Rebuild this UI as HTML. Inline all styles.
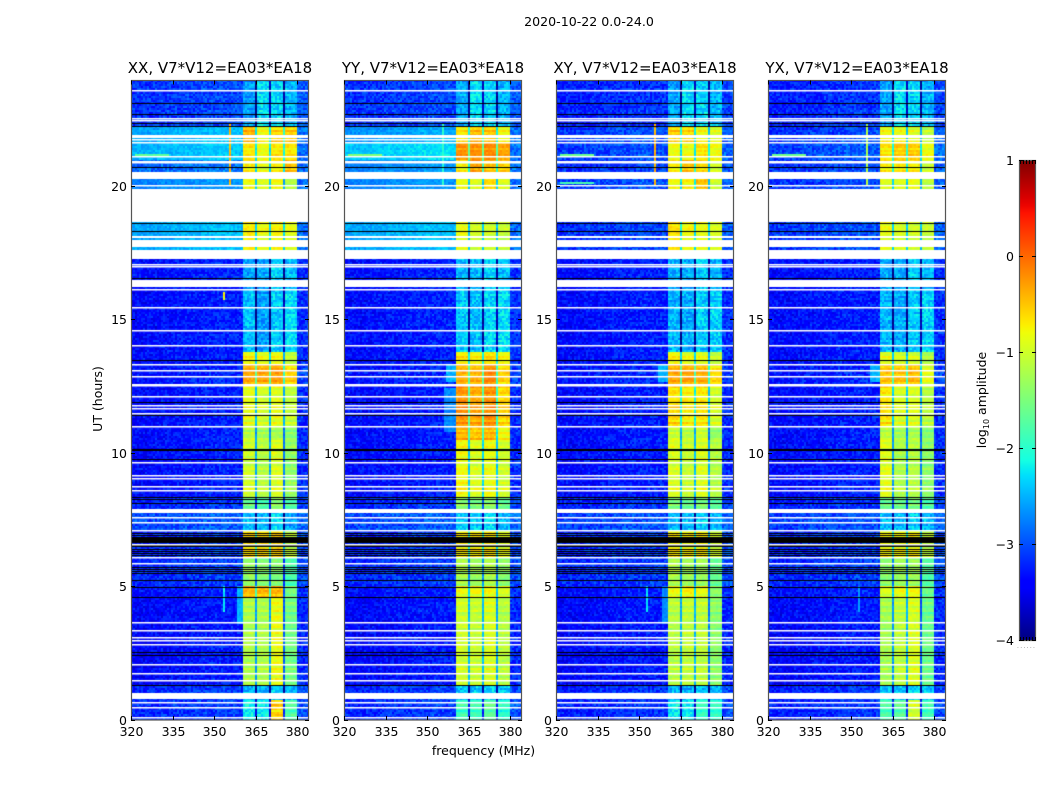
<!DOCTYPE html>
<html lang="en">
<head>
<meta charset="utf-8">
<title>2020-10-22 0.0-24.0</title>
<style>
html,body{margin:0;padding:0;background:#fff;}
#figure{position:relative;width:1050px;height:800px;overflow:hidden;background:#fff;font-family:"DejaVu Sans","Liberation Sans",sans-serif;}
canvas{position:absolute;display:block;}
svg{position:absolute;left:0;top:0;}
text{font-family:"DejaVu Sans","Liberation Sans",sans-serif;fill:#000;}
</style>
</head>
<body>
<div id="figure">
<canvas id="p0" style="left:131px;top:81px" width="177" height="639"></canvas>
<canvas id="p1" style="left:344px;top:81px" width="177" height="639"></canvas>
<canvas id="p2" style="left:556px;top:81px" width="177" height="639"></canvas>
<canvas id="p3" style="left:768px;top:81px" width="177" height="639"></canvas>
<svg id="axes" width="1050" height="800" viewBox="0 0 1050 800" xmlns="http://www.w3.org/2000/svg"></svg>
</div>
<script>
/* ---------- data ---------- */
const figureTitle = "2020-10-22 0.0-24.0";
const polarisations = ["XX", "YY", "XY", "YX"];
const baselineLabel = "V7*V12=EA03*EA18";
const freqTicks = [320, 335, 350, 365, 380];
const utTicks = [0, 5, 10, 15, 20];
const colorTicks = [1, 0, -1, -2, -3, -4];

/* UT edges (hours) of the observing segments */
const bandEdgesUT = [0,0.73,1.26,4.59,4.97,6.09,7.11,7.78,8.34,10.48,11.04,12.54,13.33,13.78,16.14,17.60,18.62,20.53,21.0,21.62,22.25,23.94];

/* log10 amplitude of the off-signal background in each segment */
const backgroundXX = [-3.15,-3.15,-3.35,-3.3,-3.15,-3.15,-3.0,-3.2,-3.32,-3.32,-3.32,-3.25,-3.32,-3.32,-3.3,-2.5,-2.7,-2.85,-2.45,-2.5,-3.1];
const backgroundYY = [-3.15,-3.15,-3.35,-3.3,-3.15,-3.15,-3.0,-3.2,-3.32,-3.32,-3.32,-3.25,-3.32,-3.3,-3.3,-2.5,-2.7,-2.7,-2.35,-2.6,-3.1];
const backgroundXY = [-3.2,-3.2,-3.35,-3.3,-3.15,-3.15,-3.05,-3.2,-3.32,-3.32,-3.32,-3.25,-3.32,-3.32,-3.32,-3.1,-3.05,-3.15,-3.05,-3.05,-3.2];
const backgroundYX = [-3.2,-3.2,-3.35,-3.3,-3.15,-3.15,-3.05,-3.2,-3.32,-3.32,-3.32,-3.25,-3.32,-3.32,-3.32,-3.05,-3.1,-3.1,-3.0,-3.1,-3.2];

/* log10 amplitude of the four signal sub-bands in each segment */
const signalXX = [[-2.2,-2.2,-0.6,-1.8],[-2.5,-2.5,-2.4,-2.5],[-1.2,-1.2,-0.85,-1.55],[-0.45,-0.45,-0.45,-1.55],[-1.35,-1.45,-1.45,-1.8],[-0.6,-0.6,-0.55,-1.1],[-2.5,-2.5,-2.3,-2.6],[-1.65,-1.85,-1.45,-1.85],[-1.0,-1.15,-0.95,-1.35],[-1.15,-1.25,-1.25,-1.45],[-0.9,-1.0,-0.9,-1.1],[-0.3,-0.3,-0.25,-0.55],[-0.8,-0.9,-0.8,-1.1],[-2.45,-2.6,-2.4,-2.3],[-2.6,-2.6,-2.4,-2.5],[-0.7,-0.85,-0.75,-0.9],[-0.85,-0.95,-0.85,-1.2],[-0.75,-0.9,-0.75,-0.5],[-0.7,-0.85,-0.7,-0.7],[-0.45,-0.85,-0.6,-0.6],[-2.6,-2.3,-2.35,-2.5]];
const signalYY = [[-1.9,-1.9,-1.7,-2.0],[-2.4,-2.4,-2.3,-2.4],[-1.0,-1.05,-0.95,-1.15],[-0.85,-0.85,-0.8,-0.95],[-1.2,-1.3,-1.2,-1.4],[-0.7,-0.7,-0.65,-0.9],[-2.4,-2.4,-2.3,-2.5],[-1.45,-1.55,-1.45,-1.65],[-0.8,-0.95,-0.85,-1.0],[-0.4,-0.5,-0.45,-0.8],[-0.25,-0.35,-0.25,-0.6],[-0.35,-0.35,-0.15,-0.55],[-0.7,-0.75,-0.65,-0.8],[-2.4,-2.45,-2.35,-2.3],[-2.5,-2.5,-2.35,-2.45],[-0.85,-1.0,-1.0,-1.05],[-0.85,-0.95,-0.65,-0.95],[-0.75,-0.35,-0.5,-0.6],[-0.25,-0.25,-0.2,-0.35],[-0.7,-0.5,-0.55,-0.85],[-2.55,-2.3,-2.35,-2.5]];
const signalXY = [[-2.25,-2.25,-1.95,-2.0],[-2.5,-2.5,-2.4,-2.5],[-1.15,-1.1,-1.1,-1.4],[-0.85,-0.75,-0.85,-1.4],[-1.2,-1.3,-1.3,-1.65],[-0.7,-0.75,-0.7,-1.0],[-2.5,-2.5,-2.4,-2.5],[-1.55,-1.65,-1.55,-1.75],[-0.95,-1.05,-0.95,-1.15],[-1.05,-1.15,-1.05,-1.35],[-0.65,-0.75,-0.7,-1.0],[-0.3,-0.3,-0.35,-0.6],[-0.8,-0.9,-0.9,-1.1],[-2.5,-2.55,-2.4,-2.35],[-2.55,-2.55,-2.4,-2.5],[-0.65,-0.8,-0.85,-0.95],[-0.85,-0.75,-0.5,-1.05],[-0.75,-0.5,-0.65,-1.0],[-0.85,-0.85,-0.7,-0.8],[-0.6,-0.65,-0.85,-0.95],[-2.6,-2.3,-2.35,-2.5]];
const signalYX = [[-1.85,-1.75,-1.0,-1.9],[-2.4,-2.4,-2.3,-2.4],[-1.25,-1.1,-0.95,-1.6],[-0.95,-0.85,-0.85,-1.6],[-1.4,-1.3,-1.3,-1.75],[-0.75,-0.8,-0.75,-1.1],[-2.5,-2.5,-2.4,-2.5],[-1.65,-1.65,-1.55,-1.85],[-0.9,-1.2,-1.15,-1.4],[-1.1,-1.25,-1.25,-1.45],[-0.7,-0.95,-0.95,-1.15],[-0.45,-0.45,-0.4,-0.85],[-0.9,-1.0,-1.0,-1.2],[-2.5,-2.55,-2.4,-2.35],[-2.55,-2.55,-2.4,-2.5],[-0.85,-0.95,-1.0,-1.05],[-0.95,-0.95,-0.85,-1.15],[-0.75,-0.7,-0.75,-1.05],[-0.7,-0.55,-0.55,-0.85],[-0.85,-0.85,-0.95,-1.15],[-2.6,-2.3,-2.35,-2.5]];

/* signal sub-band edges in MHz and background slope over frequency (5 MHz bins from 320) */
const subbandEdges = [360.5,364.7,365.4,369.7,370.4,374.6,375.3,380];
const backgroundShape = [-0.06,-0.06,-0.03,0,0.02,0.05,0.07,0.06,0.02,0.02];

/* flagged (white) single integrations, UT hours */
const flaggedUT = [0.08,0.46,0.64,1.48,1.74,2.07,2.83,2.98,3.10,3.36,3.64,5.86,6.08,6.57,7.11,7.41,7.60,8.59,8.77,9.06,9.18,9.64,11.02,11.48,11.69,11.78,12.12,12.53,12.58,12.87,13.09,13.32,14.03,14.59,15.46,16.14,16.99,17.09,20.04,20.90,20.95,21.14,21.64,21.75,22.47,22.54,23.59];
/* flagged (white) spans: start hour, then end hour */
const flaggedStart = [0.76,7.75,16.21,17.27,17.73,18.05,18.64,20.27,21.79];
const flaggedEnd = [1.00,7.89,16.48,17.59,17.98,18.13,19.89,20.52,21.92];
/* zero-amplitude (black) integrations and spans */
const zeroUT = [1.29,2.41,2.52,4.58,4.96,5.23,5.50,5.57,5.64,5.71,6.10,6.17,6.24,6.32,6.40,6.50,6.55,6.92,6.99,8.11,8.27,8.35,9.76,10.10,10.14,11.43,11.92,13.47,16.54,17.60,18.33,18.63,20.53,20.73,22.24,22.36,22.69,23.11];
const zeroStart = [6.63];
const zeroEnd = [6.84];

/* narrow-band interference: panel, start MHz, end MHz, start UT, end UT, level */
const rfiPanel = [0,2,3,1, 0,2,3,1, 2, 0,2,3, 0,2,3, 0,2, 1,2,3, 1, 0];
const rfiFreqLo = [355.7,355.7,355.7,355.7, 321.5,321.5,321.5,321.5, 321.5, 353.3,352.7,352.7, 355.8,355.8,355.8, 358.2,358.2, 357,357,357, 356, 353.4];
const rfiFreqHi = [356.5,356.5,356.5,356.5, 334,334,334,334, 334, 354,353.4,353.4, 356.5,356.5,356.5, 360.5,360.5, 360.5,360.5,360.5, 360.5, 354.1];
const rfiStart = [20.0,20.0,20.0,20.0, 21.14,21.14,21.14,21.14, 20.08, 4.0,4.0,4.0, 3.5,3.5,3.5, 3.6,3.6, 12.65,12.65,12.65, 10.8, 15.75];
const rfiEnd = [22.3,22.3,22.3,22.3, 21.22,21.22,21.22,21.22, 20.16, 5.0,5.0,5.0, 4.9,4.9,4.9, 5.0,5.0, 13.3,13.3,13.3, 12.45, 16.0];
const rfiLevel = [-0.4,-0.4,-1.2,-2.0, -1.7,-1.6,-1.6,-1.5, -1.8, -2.2,-2.3,-2.6, -2.1,-2.4,-2.6, -2.5,-2.7, -2.5,-2.5,-2.5, -2.7, -0.8];

/* hand-read texture offsets for pixel noise and per-integration gain */
const speckle = [0.12,-0.22,0.31,-0.05,0.18,-0.33,0.07,0.24,-0.14,-0.27,0.03,0.35,-0.09,0.16,-0.19,0.28,-0.31,0.01,0.11,-0.24,0.21,-0.07,0.38,-0.16,-0.29,0.09,0.14,-0.02,0.26,-0.36,0.05,0.19,-0.12,0.33,-0.21,0.02,-0.26,0.15,0.23,-0.11,0.41,-0.34,0.06,-0.18,0.29,-0.04,0.13,-0.23,0.36,-0.28,0.08,0.17,-0.15,-0.01,0.25,-0.32,0.1,0.3,-0.2,0.04,-0.3,0.22,-0.08,0.34,-0.17,0.0,0.2,-0.25,0.27,-0.13,0.44,-0.37,0.07,-0.06,0.16,-0.21,0.32,-0.1,-0.28,0.12,0.24,-0.03,0.19,-0.35,0.37,-0.19,0.02,0.1,-0.24,0.28,-0.12,0.06,-0.3,0.21,0.15,-0.16,-0.02];
const rowGain = [0.05,-0.12,0.2,0.02,-0.25,0.1,-0.05,0.28,-0.18,0.0,0.14,-0.08,-0.3,0.22,0.04,-0.15,0.08,0.25,-0.1,-0.03,0.16,-0.22,0.06,0.12,-0.06,0.3,-0.2,0.01,0.18,-0.14,-0.02,0.09,-0.28,0.24,0.03,-0.11,0.15,-0.04,0.07,-0.17,0.11];

const backgroundSets = [backgroundXX, backgroundYY, backgroundXY, backgroundYX];
const signalSets = [signalXX, signalYY, signalXY, signalYX];

/* ---------- layout and scales ---------- */
const panelLefts = [131, 344, 556, 768];
const panelWidth = 177;
const panelTop = 81;
const panelBottom = 720;
const utZeroY = 719.5;
const pxPerHour = 26.67;
const pxPerMHz = 2.767;
const barLeft = 1019, barRight = 1035, barTop = 160, barBottom = 640;

function xOffset(mhz){ return (mhz - freqTicks[0]) * pxPerMHz; }
function yScale(ut){ return utZeroY - ut * pxPerHour; }
function barScale(v){ return barBottom - (v + 4) / 5 * (barBottom - barTop); }

function clamp01(v){ return Math.max(0, Math.min(1, v)); }
function jet(t){
  t = clamp01(t);
  let r, g, b;
  r = t < 0.35 ? 0 : t < 0.66 ? (t - 0.35) / 0.31 : t < 0.89 ? 1 : 1 - (t - 0.89) / 0.11 * 0.5;
  g = t < 0.125 ? 0 : t < 0.375 ? (t - 0.125) / 0.25 : t < 0.64 ? 1 : t < 0.91 ? 1 - (t - 0.64) / 0.27 : 0;
  b = t < 0.11 ? 0.5 + t / 0.11 * 0.5 : t < 0.34 ? 1 : t < 0.65 ? 1 - (t - 0.34) / 0.31 : 0;
  return "rgb(" + Math.round(r * 255) + "," + Math.round(g * 255) + "," + Math.round(b * 255) + ")";
}
function levelColor(v){ return jet((v + 4) / 5); }

function bandIndex(ut){
  for (let i = 0; i < bandEdgesUT.length - 1; i++) {
    if (ut < bandEdgesUT[i + 1]) return i;
  }
  return bandEdgesUT.length - 2;
}

function textureAt(p, c, r){
  let h = Math.imul(c + 1 + p * 211, 73856093) ^ Math.imul(r + 1, 19349663);
  h ^= h >>> 13;
  h = Math.imul(h, 1274126177);
  h ^= h >>> 16;
  return speckle[(h >>> 0) % speckle.length];
}

function cellLevel(p, mhz, ut, c, r){
  const b = bandIndex(ut);
  const bg = backgroundSets[p][b];
  const noise = textureAt(p, c, r);
  const gain = rowGain[r % rowGain.length];
  const bgNoise = bg < -2.8 ? 0.7 : 0.4;
  let v;
  if (mhz < subbandEdges[0]) {
    const bin = Math.min(backgroundShape.length - 1, Math.floor((mhz - freqTicks[0]) / 5));
    v = bg + backgroundShape[bin] + noise * bgNoise + gain * 0.15;
  } else if (mhz >= subbandEdges[7]) {
    v = Math.min(bg + 0.15, -2.85) + noise * 0.7;
  } else {
    const levels = signalSets[p][b];
    let sub = -1;
    for (let k = 0; k < 4; k++) {
      if (mhz >= subbandEdges[k * 2] && mhz < subbandEdges[k * 2 + 1]) sub = k;
    }
    if (sub >= 0) {
      const lv = levels[sub];
      v = lv + noise * (lv < -2 ? 0.65 : 0.3) + gain * (lv < -2 ? 0.3 : 0.65);
    } else {
      let g = 0;
      for (let k = 0; k < 3; k++) {
        if (mhz >= subbandEdges[k * 2 + 1] && mhz < subbandEdges[k * 2 + 2]) g = k;
      }
      v = Math.min(levels[g], levels[g + 1]) - 1.4 + noise * 0.3;
    }
  }
  for (let i = 0; i < rfiPanel.length; i++) {
    if (rfiPanel[i] === p && mhz >= rfiFreqLo[i] && mhz < rfiFreqHi[i] && ut >= rfiStart[i] && ut < rfiEnd[i]) {
      v = Math.max(v, rfiLevel[i] + noise * 0.3);
    }
  }
  return v;
}

/* ---------- heatmaps ---------- */
const cellPx = 2;
polarisations.forEach(function (pol, p) {
  const cv = document.getElementById("p" + p);
  const ctx = cv.getContext("2d");
  const W = cv.width, H = cv.height;
  const cols = Math.ceil(W / cellPx);
  const rows = Math.ceil(H / cellPx);
  for (let r = 0; r < rows; r++) {
    const y = H - (r + 1) * cellPx;
    const ut = (utZeroY - (panelTop + y + cellPx / 2)) / pxPerHour;
    for (let c = 0; c < cols; c++) {
      const mhz = freqTicks[0] + (c + 0.5) * cellPx / pxPerMHz;
      ctx.fillStyle = levelColor(cellLevel(p, mhz, ut, c, r));
      ctx.fillRect(c * cellPx, y, cellPx, cellPx);
    }
  }
  function span(start, end, color){
    ctx.fillStyle = color;
    const top = Math.round(yScale(end) - panelTop);
    const bottom = Math.round(yScale(start) - panelTop);
    ctx.fillRect(0, top, W, bottom - top);
  }
  function line(ut, color, px){
    ctx.fillStyle = color;
    ctx.fillRect(0, Math.round(yScale(ut) - panelTop), W, px);
  }
  zeroStart.forEach(function (s, i) { span(s, zeroEnd[i], "#000"); });
  zeroUT.forEach(function (u) { line(u, "#000", 1); });
  flaggedStart.forEach(function (s, i) { span(s, flaggedEnd[i], "#fff"); });
  flaggedUT.forEach(function (u) { line(u, "#fff", 1.5); });
});

/* ---------- axes ---------- */
const NS = "http://www.w3.org/2000/svg";
const svg = document.getElementById("axes");

function addLine(x1, y1, x2, y2, name, color, width){
  const el = document.createElementNS(NS, "line");
  el.setAttribute("x1", x1);
  el.setAttribute("y1", y1);
  el.setAttribute("x2", x2);
  el.setAttribute("y2", y2);
  el.setAttribute("stroke", color || "#000");
  el.setAttribute("stroke-width", width || 1);
  
  
  svg.appendChild(el);
  return el;
}
function addText(str, x, y, size, anchor, name){
  const el = document.createElementNS(NS, "text");
  el.setAttribute("x", x);
  el.setAttribute("y", y);
  el.setAttribute("font-size", size);
  el.setAttribute("text-anchor", anchor);
  
  
  el.textContent = str;
  svg.appendChild(el);
  return el;
}

polarisations.forEach(function (pol, p) {
  const left = panelLefts[p];
  const right = left + panelWidth;
  const lower = pol.toLowerCase();

  const frame = document.createElementNS(NS, "rect");
  frame.setAttribute("x", left + 0.5);
  frame.setAttribute("y", panelTop - 0.5);
  frame.setAttribute("width", panelWidth);
  frame.setAttribute("height", panelBottom - panelTop + 0.5);
  frame.setAttribute("fill", "none");
  frame.setAttribute("stroke", "#555");
  frame.setAttribute("stroke-width", "1.2");
  
  
  svg.appendChild(frame);

  addText(pol + ", " + baselineLabel, left + panelWidth / 2 + 0.5, 73, 15, "middle", lower + "-panel-title");

  freqTicks.forEach(function (f) {
    const x = Math.round(left + xOffset(f)) + 0.5;
    addLine(x, panelBottom, x, panelBottom - 4, lower + "-x-tick-" + f);
    addLine(x, panelTop - 0.5, x, panelTop + 3.5, lower + "-x-tick-top-" + f);
    addText(String(f), x, 736, 12.5, "middle", lower + "-x-tick-label-" + f);
  });
  utTicks.forEach(function (u) {
    const y = Math.round(yScale(u)) + 0.5;
    addLine(left, y, left + 4, y, lower + "-y-tick-" + u);
    addLine(right - 3, y, right + 1, y, lower + "-y-tick-right-" + u);
    addText(String(u), left - 4, y + 4.5, 12.5, "end", lower + "-y-tick-label-" + u);
  });
});

addText(figureTitle, 589, 26, 12.6, "middle", "figure-title");
addText("frequency (MHz)", 483.5, 755, 12.5, "middle", "x-axis-title");
const utLabel = addText("UT (hours)", 0, 0, 12.5, "middle", "y-axis-title");
utLabel.setAttribute("transform", "translate(102,399) rotate(-90)");

/* ---------- colour bar ---------- */
const defs = document.createElementNS(NS, "defs");
const grad = document.createElementNS(NS, "linearGradient");
grad.setAttribute("id", "jet-gradient");
grad.setAttribute("x1", "0");
grad.setAttribute("y1", "1");
grad.setAttribute("x2", "0");
grad.setAttribute("y2", "0");
for (let i = 0; i <= 64; i++) {
  const s = document.createElementNS(NS, "stop");
  s.setAttribute("offset", i / 64);
  s.setAttribute("stop-color", jet(i / 64));
  grad.appendChild(s);
}
defs.appendChild(grad);
svg.appendChild(defs);

const bar = document.createElementNS(NS, "rect");
bar.setAttribute("x", barLeft + 0.5);
bar.setAttribute("y", barTop + 0.5);
bar.setAttribute("width", barRight - barLeft);
bar.setAttribute("height", barBottom - barTop);
bar.setAttribute("fill", "url(#jet-gradient)");
bar.setAttribute("stroke", "#555");
bar.setAttribute("stroke-width", "1.2");


svg.appendChild(bar);

colorTicks.forEach(function (v) {
  const y = Math.round(barScale(v)) + 0.5;
  addLine(barLeft, y, barLeft + 4, y, "colorbar-tick-" + v);
  addLine(barRight - 3, y, barRight + 1, y, "colorbar-tick-right-" + v);
  addText(String(v).replace("-", "\u2212"), barLeft - 5, y + 4.5, 12.5, "end", "colorbar-tick-label-" + v);
});
for (let i = 0; i < 6; i++) {
  const x = barLeft + 1.5 + i * 3;
  addLine(x, barTop, x, barTop + 4, "colorbar-top-minor-tick-" + i);
  addLine(x, barBottom - 3, x, barBottom + 1, "colorbar-bottom-minor-tick-" + i);
}
const dots = addText("......", barLeft - 2, barBottom + 8, 6, "start", "colorbar-x-tick-dots");
dots.setAttribute("style", "fill:#777;letter-spacing:1.3px");

const cbLabel = addText("", 0, 0, 12.5, "middle", "colorbar-label");
cbLabel.setAttribute("transform", "translate(986,400) rotate(-90)");
const t1 = document.createElementNS(NS, "tspan");
t1.textContent = "log";
cbLabel.appendChild(t1);
const t2 = document.createElementNS(NS, "tspan");
t2.setAttribute("font-size", "8");
t2.setAttribute("dy", "3");
t2.textContent = "10";
cbLabel.appendChild(t2);
const t3 = document.createElementNS(NS, "tspan");
t3.setAttribute("dy", "-3");
t3.textContent = " amplitude";
cbLabel.appendChild(t3);
</script>
</body>
</html>
